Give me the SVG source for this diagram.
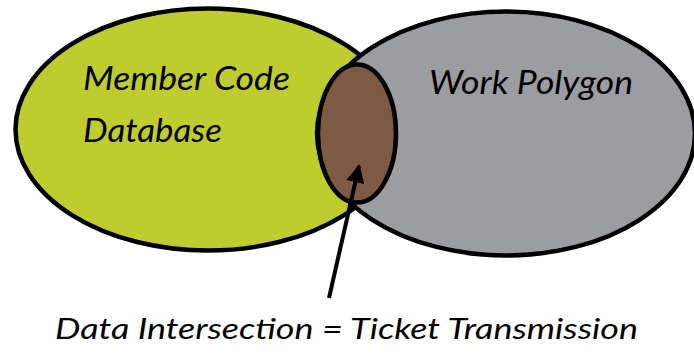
<svg xmlns="http://www.w3.org/2000/svg" width="694" height="354" viewBox="0 0 694 354">
  <style>
    .set { stroke: #000; stroke-width: 4.5; }
    .label { font-family: Lato, "Open Sans", "Liberation Sans", sans-serif; font-style: italic; fill: #000; }
    .big { font-size: 32px; }
    .caption { font-size: 29.5px; }
  </style>
  <defs>
    <marker id="arrowhead" viewBox="0 0 10 10" refX="9" refY="5" markerWidth="4.6" markerHeight="4.6" markerUnits="strokeWidth" orient="auto">
      <path d="M0,0 L10,5 L0,10 z" fill="#000"/>
    </marker>
  </defs>

  <g id="member-code-database">
    <ellipse class="set" cx="208" cy="129.5" rx="192.5" ry="121" fill="#bfcc2e"/>
    <text class="label big" x="83" y="90" textLength="207" lengthAdjust="spacingAndGlyphs">Member Code</text>
    <text class="label big" x="83" y="142" textLength="139" lengthAdjust="spacingAndGlyphs">Database</text>
  </g>

  <g id="work-polygon">
    <ellipse class="set" cx="506" cy="133.5" rx="189" ry="122" fill="#9c9da1"/>
    <text class="label big" x="429" y="94" textLength="204" lengthAdjust="spacingAndGlyphs">Work Polygon</text>
  </g>

  <g id="data-intersection">
    <ellipse class="set" cx="357" cy="133.5" rx="39" ry="69" fill="#7f5a42"/>
  </g>

  <g id="connectors">
    <line x1="329" y1="298" x2="359" y2="166" stroke="#000" stroke-width="4" marker-end="url(#arrowhead)"/>
  </g>

  <g id="caption">
    <text class="label caption" x="55" y="339" textLength="583" lengthAdjust="spacingAndGlyphs">Data Intersection = Ticket Transmission</text>
  </g>
</svg>
